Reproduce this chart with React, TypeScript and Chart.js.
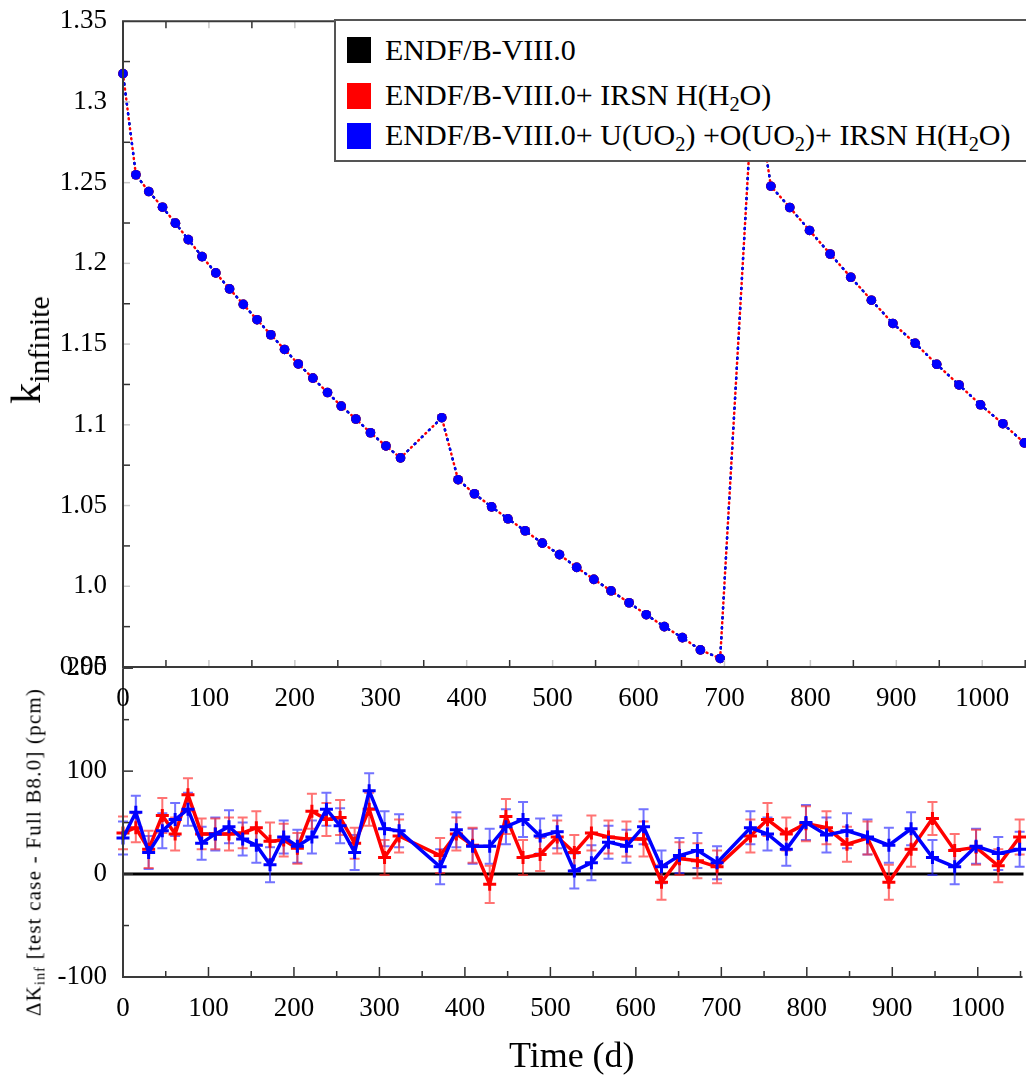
import React, { useEffect, useRef } from 'react';
import { Chart, registerables } from 'chart.js';

Chart.register(...registerables);

// ---------------- data ----------------
const timeDays = [
  0, 15, 30, 46, 61, 76, 92, 108, 124, 140,
  156, 172, 188, 204, 221, 238, 254, 271, 288, 306,
  323, 371, 390, 409, 429, 448, 468, 488, 508, 528,
  548, 568, 589, 609, 630, 651, 672, 695, 734, 754,
  776, 799, 823, 847, 871, 896, 922, 947, 973, 998,
  1024, 1049,
];

const kInfinite = [
  1.3175, 1.2549, 1.2445, 1.2348, 1.2249, 1.2147, 1.2042, 1.1941, 1.1842, 1.1746,
  1.1651, 1.1558, 1.1467, 1.1377, 1.1289, 1.12, 1.1116, 1.1036, 1.0951, 1.0869,
  1.0795, 1.1044, 1.066, 1.0573, 1.0492, 1.0418, 1.0344, 1.0267, 1.0196, 1.0117,
  1.0043, 0.9972, 0.9898, 0.9824, 0.975, 0.9682, 0.9606, 0.9553, 1.318, 1.2478,
  1.2346, 1.2204, 1.2058, 1.1914, 1.1772, 1.1628, 1.1505, 1.1375, 1.1247, 1.1124,
  1.1007, 1.0888,
];

const deltaIrsnH = [
  40, 45, 24, 57, 39, 77, 39, 39, 39, 40,
  45, 32, 33, 25, 61, 53, 55, 30, 63, 16,
  37, 18, 39, 28, -10, 56, 16, 19, 36, 21,
  40, 36, 34, 34, -8, 15, 13, 7, 37, 53,
  39, 49, 45, 29, 35, -8, 24, 54, 23, 26,
  8, 36,
];

const deltaUOIrsnH = [
  35, 60, 21, 42, 53, 63, 30, 39, 46, 34,
  28, 9, 36, 27, 36, 63, 47, 21, 81, 44,
  42, 7, 43, 27, 27, 46, 53, 37, 41, 3,
  11, 31, 27, 46, 7, 18, 23, 11, 45, 39,
  24, 50, 38, 42, 36, 28, 44, 16, 7, 27,
  20, 24,
];

const errIrsnH = [
  16, 14, 18, 17, 16, 16, 15, 15, 16, 15,
  16, 18, 16, 15, 17, 16, 17, 15, 16, 17,
  16, 17, 16, 17, 18, 17, 17, 16, 16, 17,
  17, 16, 17, 17, 17, 16, 17, 16, 16, 16,
  16, 17, 16, 17, 16, 17, 17, 16, 16, 17,
  16, 17,
];

const errUOIrsnH = [
  16, 16, 16, 17, 16, 16, 16, 16, 16, 16,
  17, 17, 16, 16, 16, 16, 17, 17, 17, 17,
  16, 17, 17, 17, 17, 17, 17, 17, 16, 17,
  17, 16, 16, 17, 16, 17, 17, 16, 16, 16,
  16, 17, 17, 17, 17, 17, 16, 17, 17, 17,
  16, 17,
];

const seriesNames = [
  'ENDF/B-VIII.0',
  'ENDF/B-VIII.0+ IRSN H(H₂O)',
  'ENDF/B-VIII.0+ U(UO₂) +O(UO₂)+ IRSN H(H₂O)',
];
const seriesColors = ['#000000', '#ff0000', '#0000ff'];

const timeTicks = [0, 100, 200, 300, 400, 500, 600, 700, 800, 900, 1000];
const timeTickLabels = ['0', '100', '200', '300', '400', '500', '600', '700', '800', '900', '1000'];
const kTicks = [0.95, 1.0, 1.05, 1.1, 1.15, 1.2, 1.25, 1.3, 1.35];
const kTickLabels = ['0.95', '1.0', '1.05', '1.1', '1.15', '1.2', '1.25', '1.3', '1.35'];
const deltaTicks = [-100, 0, 100, 200];
const deltaTickLabels = ['-100', '0', '100', '200'];

// ---------------- helpers ----------------
const FONT = "'Liberation Serif', 'Times New Roman', serif";

const pts = (ys: number[]) => timeDays.map((t, i) => ({ x: t, y: ys[i] }));

function inwardTicks(opts: { xStep: number; yStep: number; xMajor: number; yMajor: number; drawTop: boolean; lightMajor: boolean }) {
  return {
    id: 'inwardTicks',
    afterDraw(chart: any) {
      const { ctx, chartArea } = chart;
      const { left, right, top, bottom } = chartArea;
      const xs = chart.scales.x;
      const ys = chart.scales.y;
      ctx.save();
      ctx.lineWidth = 1.5;
      const isMajor = (v: number, m: number) => Math.abs(v / m - Math.round(v / m)) < 1e-6;
      for (let v = xs.min; v <= xs.max + 1e-9; v += opts.xStep) {
        const px = xs.getPixelForValue(v);
        const major = isMajor(v, opts.xMajor);
        ctx.strokeStyle = opts.lightMajor && major ? '#c8c8c8' : '#333';
        const len = opts.lightMajor ? 7 : major ? 10 : 6;
        ctx.beginPath();
        ctx.moveTo(px, bottom);
        ctx.lineTo(px, bottom - len);
        if (opts.drawTop) {
          ctx.moveTo(px, top);
          ctx.lineTo(px, top + len);
        }
        ctx.stroke();
      }
      for (let v = ys.min; v <= ys.max + 1e-9; v += opts.yStep) {
        const py = ys.getPixelForValue(v);
        const major = isMajor(v, opts.yMajor);
        ctx.strokeStyle = opts.lightMajor && major ? '#c8c8c8' : '#333';
        const len = opts.lightMajor ? 7 : major ? 10 : 6;
        ctx.beginPath();
        ctx.moveTo(left, py);
        ctx.lineTo(left + len, py);
        ctx.stroke();
      }
      // frame
      ctx.strokeStyle = '#3a3a3a';
      ctx.lineWidth = 2;
      ctx.beginPath();
      if (opts.drawTop) {
        ctx.moveTo(right + 2, top);
        ctx.lineTo(left, top);
      } else {
        ctx.moveTo(left, top);
      }
      ctx.lineTo(left, bottom);
      ctx.lineTo(right + 2, bottom);
      ctx.stroke();
      ctx.restore();
    },
  };
}

const errorBars = {
  id: 'errorBars',
  beforeDatasetsDraw(chart: any) {
    const { ctx, chartArea } = chart;
    const ys = chart.scales.y;
    // zero line
    ctx.save();
    ctx.strokeStyle = '#000';
    ctx.lineWidth = 3;
    ctx.beginPath();
    ctx.moveTo(chartArea.left, ys.getPixelForValue(0));
    ctx.lineTo(chartArea.right + 3, ys.getPixelForValue(0));
    ctx.stroke();
    chart.data.datasets.forEach((ds: any, di: number) => {
      const meta = chart.getDatasetMeta(di);
      ctx.strokeStyle = ds.errorColor;
      ctx.lineWidth = 2;
      meta.data.forEach((el: any, i: number) => {
        const v = ds.data[i].y;
        const e = ds.errors[i];
        const y1 = ys.getPixelForValue(v - e);
        const y2 = ys.getPixelForValue(v + e);
        const x = el.x;
        ctx.beginPath();
        ctx.moveTo(x, y1);
        ctx.lineTo(x, y2);
        ctx.moveTo(x - 5, y1);
        ctx.lineTo(x + 5, y1);
        ctx.moveTo(x - 5, y2);
        ctx.lineTo(x + 5, y2);
        ctx.stroke();
      });
    });
    ctx.restore();
  },
};

function renderName(name: string) {
  const parts = name.split('₂');
  const out: any[] = [];
  parts.forEach((p, i) => {
    out.push(<span key={'t' + i}>{p}</span>);
    if (i < parts.length - 1)
      out.push(
        <span key={'s' + i} style={{ fontSize: '0.68em', position: 'relative', top: '0.32em' }}>
          2
        </span>
      );
  });
  return out;
}

export default function App() {
  const topRef = useRef<HTMLCanvasElement>(null);
  const botRef = useRef<HTMLCanvasElement>(null);

  useEffect(() => {
    Chart.defaults.font.family = FONT;
    Chart.defaults.color = '#000';

    const topLine = (idx: number, order: number, offset: number) => ({
      label: seriesNames[idx],
      data: pts(kInfinite),
      borderColor: seriesColors[idx],
      backgroundColor: seriesColors[idx],
      borderWidth: 2.5,
      borderDash: [1, 9],
      borderDashOffset: offset,
      borderCapStyle: 'round',
      pointRadius: 4.8,
      pointBorderWidth: 0,
      pointBackgroundColor: seriesColors[idx],
      order,
      clip: 8,
      tension: 0,
    });

    const top = new Chart(topRef.current as HTMLCanvasElement, {
      type: 'line',
      data: {
        datasets: [topLine(2, 1, 0), topLine(1, 2, 5), topLine(0, 3, 0)] as any,
      },
      options: {
        responsive: false,
        animation: false,
        devicePixelRatio: 1,
        layout: { padding: { top: 0, right: 3, left: 0, bottom: 0 } },
        plugins: { legend: { display: false }, tooltip: { enabled: false } },
        scales: {
          x: {
            type: 'linear',
            min: 0,
            max: 1050,
            grid: { display: false, drawTicks: false },
            border: { display: false },
            afterBuildTicks: (s: any) => {
              s.ticks = timeTicks.map((v) => ({ value: v }));
            },
            ticks: {
              font: { size: 27 },
              padding: 16,
              maxRotation: 0,
              autoSkip: false,
              color: '#000',
              callback: (_v: any, i: number) => timeTickLabels[i],
            },
            afterFit: (s: any) => {
              s.height = 53;
            },
          },
          y: {
            type: 'linear',
            min: 0.95,
            max: 1.35,
            grid: { display: false, drawTicks: false },
            border: { display: false },
            afterBuildTicks: (s: any) => {
              s.ticks = kTicks.map((v) => ({ value: v }));
            },
            ticks: {
              font: { size: 27 },
              padding: 16,
              color: '#000',
              callback: (_v: any, i: number) => kTickLabels[i],
            },
            afterFit: (s: any) => {
              s.width = 123;
            },
          },
        },
      } as any,
      plugins: [inwardTicks({ xStep: 50, yStep: 0.025, xMajor: 100, yMajor: 0.05, drawTop: true, lightMajor: true })],
    });

    const botLine = (idx: number, ys: number[], errs: number[], errColor: string, order: number) => ({
      label: seriesNames[idx],
      data: pts(ys),
      errors: errs,
      errorColor: errColor,
      borderColor: seriesColors[idx],
      backgroundColor: seriesColors[idx],
      borderWidth: 3.5,
      pointStyle: 'cross',
      pointRadius: 6.5,
      pointBorderWidth: 3,
      pointBorderColor: seriesColors[idx],
      order,
      clip: 8,
      tension: 0,
    });

    const bot = new Chart(botRef.current as HTMLCanvasElement, {
      type: 'line',
      data: {
        datasets: [
          botLine(2, deltaUOIrsnH, errUOIrsnH, 'rgba(40,40,255,0.65)', 1),
          botLine(1, deltaIrsnH, errIrsnH, 'rgba(255,40,40,0.65)', 2),
        ] as any,
      },
      options: {
        responsive: false,
        animation: false,
        devicePixelRatio: 1,
        layout: { padding: { top: 0, right: 3, left: 0, bottom: 0 } },
        plugins: { legend: { display: false }, tooltip: { enabled: false } },
        scales: {
          x: {
            type: 'linear',
            min: 0,
            max: 1050,
            grid: { display: false, drawTicks: false },
            border: { display: false },
            afterBuildTicks: (s: any) => {
              s.ticks = timeTicks.map((v) => ({ value: v }));
            },
            ticks: {
              font: { size: 27 },
              padding: 16,
              maxRotation: 0,
              autoSkip: false,
              color: '#000',
              callback: (_v: any, i: number) => timeTickLabels[i],
            },
            title: {
              display: true,
              text: 'Time (d)',
              font: { size: 36 },
              color: '#000',
              padding: { top: 0, bottom: 2 },
            },
            afterFit: (s: any) => {
              s.height = 104;
            },
          },
          y: {
            type: 'linear',
            min: -100,
            max: 200,
            grid: { display: false, drawTicks: false },
            border: { display: false },
            afterBuildTicks: (s: any) => {
              s.ticks = deltaTicks.map((v) => ({ value: v }));
            },
            ticks: {
              font: { size: 27 },
              padding: 16,
              color: '#000',
              callback: (_v: any, i: number) => deltaTickLabels[i],
            },
            afterFit: (s: any) => {
              s.width = 123;
            },
          },
        },
      } as any,
      plugins: [errorBars, inwardTicks({ xStep: 50, yStep: 50, xMajor: 100, yMajor: 100, drawTop: false, lightMajor: false })],
    });

    return () => {
      top.destroy();
      bot.destroy();
    };
  }, []);

  const legendRowCenters = [48, 94, 134];

  return (
    <div
      style={{
        position: 'fixed',
        left: 0,
        top: 0,
        width: 1026,
        height: 1081,
        overflow: 'hidden',
        background: '#fff',
        fontFamily: FONT,
      }}
    >
      <canvas ref={botRef} width={1030} height={445} style={{ position: 'absolute', left: 0, top: 636 }} />
      <canvas ref={topRef} width={1030} height={731} style={{ position: 'absolute', left: 0, top: -11 }} />

      {/* legend */}
      <div
        style={{
          position: 'absolute',
          left: 334,
          top: 19,
          width: 720,
          height: 143,
          border: '2px solid #555',
          background: '#fff',
          boxSizing: 'border-box',
          fontSize: 30,
          color: '#000',
        }}
      >
        {seriesNames.map((n, i) => (
          <div
            key={n}
            style={{
              position: 'absolute',
              left: 11,
              top: legendRowCenters[i] - 19 - 16,
              height: 32,
              display: 'flex',
              alignItems: 'center',
              whiteSpace: 'nowrap',
              lineHeight: '32px',
            }}
          >
            <span style={{ display: 'inline-block', width: 24, height: 26, background: seriesColors[i], marginRight: 14 }} />
            <span>{renderName(n)}</span>
          </div>
        ))}
      </div>

      {/* y titles */}
      <div
        style={{
          position: 'absolute',
          left: 26,
          top: 350,
          transform: 'translate(-50%, -50%) rotate(-90deg)',
          whiteSpace: 'nowrap',
          color: '#000',
        }}
      >
        <span style={{ fontSize: 42 }}>k</span>
        <span style={{ fontSize: 30, position: 'relative', top: '0.3em' }}>infinite</span>
      </div>
      <div
        style={{
          position: 'absolute',
          left: 34,
          top: 852,
          transform: 'translate(-50%, -50%) rotate(-90deg)',
          whiteSpace: 'nowrap',
          color: '#000',
          fontSize: 21,
          letterSpacing: '1.2px',
        }}
      >
        ΔK<span style={{ fontSize: 14, position: 'relative', top: '0.3em' }}>inf</span> [test case - Full B8.0] (pcm)
      </div>
    </div>
  );
}
